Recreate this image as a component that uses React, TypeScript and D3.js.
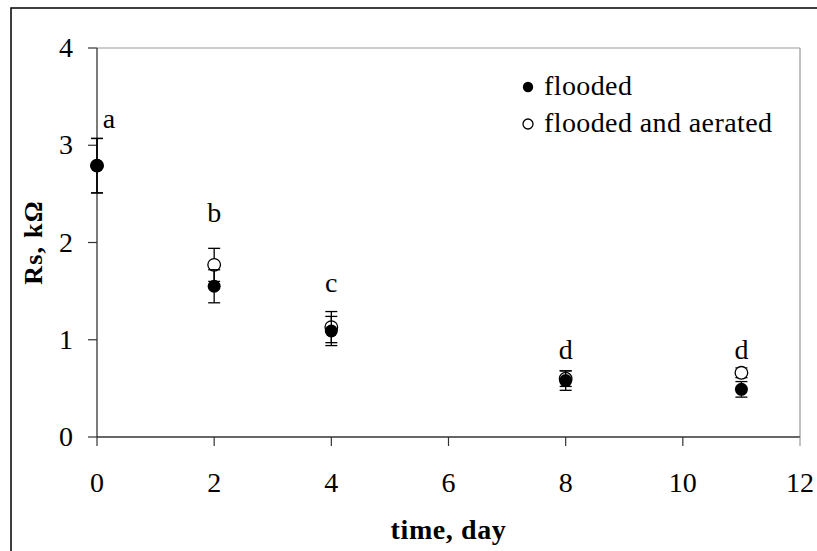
import * as d3 from "d3";

// days and Rs readings (kOhm)
const days = [0, 2, 4, 8, 11];
const flooded = [2.79, 1.55, 1.09, 0.58, 0.49];
const floodedErr = [0.28, 0.17, 0.15, 0.1, 0.08];
const aerated = [2.79, 1.77, 1.13, 0.6, 0.66];
const aeratedErr = [0.28, 0.17, 0.16, 0.08, 0.05];
// significance letters and their heights (in kOhm units)
const letters = ["a", "b", "c", "d", "d"];
const letterY = [3.18, 2.21, 1.49, 0.8, 0.8];
const xTicks = [0, 2, 4, 6, 8, 10, 12];
const yTicks = [0, 1, 2, 3, 4];

const W = 817;
const H = 551;
const left = 97, right = 800, top = 48, bottom = 437;
const font = "'Liberation Serif', 'Times New Roman', serif";

const App = () => {
    const x = d3.scaleLinear([0, 12], [left, right]);
    const y = d3.scaleLinear([0, 4], [bottom, top]);
    const cap = 6;

    const errBar = (d, v, e, key) => (
        <g key={key} stroke="#000" strokeWidth="1.3">
            <line x1={x(d)} x2={x(d)} y1={y(v - e)} y2={y(v + e)} />
            <line x1={x(d) - cap} x2={x(d) + cap} y1={y(v + e)} y2={y(v + e)} />
            <line x1={x(d) - cap} x2={x(d) + cap} y1={y(v - e)} y2={y(v - e)} />
        </g>
    );

    return (
        <svg width={W} height={H} style={{position: "absolute", left: 0, top: 0}} fontFamily={font}>
            <rect x={0} y={0} width={W} height={H} fill="#fff" />
            {/* outer frame, runs off the right and bottom */}
            <rect x={11} y={8} width={W + 20} height={H + 20} fill="none" stroke="#000" strokeWidth="1.5" />

            {/* plot frame: grey top/right, dark axes */}
            <line x1={left} x2={right} y1={top} y2={top} stroke="#999" strokeWidth="1.2" />
            <line x1={right} x2={right} y1={top} y2={bottom} stroke="#999" strokeWidth="1.2" />
            <line x1={left} x2={left} y1={top} y2={bottom} stroke="#222" strokeWidth="1.2" />
            <line x1={left} x2={right} y1={bottom} y2={bottom} stroke="#333" strokeWidth="1.5" />

            {yTicks.map(t => (
                <g key={"y" + t}>
                    <line x1={left - 9} x2={left} y1={y(t)} y2={y(t)} stroke="#333" strokeWidth="1.2" />
                    <text x={73} y={y(t) + 9} textAnchor="end" fontSize="28">{t}</text>
                </g>
            ))}
            {xTicks.map(t => (
                <g key={"x" + t}>
                    <line x1={x(t)} x2={x(t)} y1={bottom} y2={bottom + 9} stroke={t === 12 ? "#999" : "#333"} strokeWidth="1.2" />
                    <text x={x(t)} y={492} textAnchor="middle" fontSize="28">{t}</text>
                </g>
            ))}

            <text x={(left + right) / 2} y={539} textAnchor="middle" fontSize="28" fontWeight="bold" letterSpacing="0.6">time, day</text>
            <text transform={`translate(42,${(top + bottom) / 2}) rotate(-90)`} textAnchor="middle" fontSize="26" fontWeight="bold" letterSpacing="1.2">Rs, kΩ</text>

            {/* flooded and aerated (open) drawn first, flooded (filled) on top */}
            {days.map((d, i) => errBar(d, aerated[i], aeratedErr[i], "ae" + i))}
            {days.map((d, i) => (
                <circle key={"ac" + i} cx={x(d)} cy={y(aerated[i])} r="6.3" fill="#fff" stroke="#000" strokeWidth="1.3" />
            ))}
            {days.map((d, i) => errBar(d, flooded[i], floodedErr[i], "fe" + i))}
            {days.map((d, i) => (
                <circle key={"fc" + i} cx={x(d)} cy={y(flooded[i])} r="6.5" fill="#000" />
            ))}

            {letters.map((l, i) => (
                <text key={"l" + i} x={x(days[i]) + (i === 0 ? 12 : 0)} y={y(letterY[i])} textAnchor="middle" fontSize="28">{l}</text>
            ))}

            {/* legend */}
            <circle cx={528} cy={87} r="5.2" fill="#000" />
            <text x={544} y={95} fontSize="28" letterSpacing="0.4">flooded</text>
            <circle cx={528} cy={124} r="5" fill="#fff" stroke="#000" strokeWidth="1.3" />
            <text x={544} y={132} fontSize="28" letterSpacing="0.4">flooded and aerated</text>
        </svg>
    );
};

export default App;
